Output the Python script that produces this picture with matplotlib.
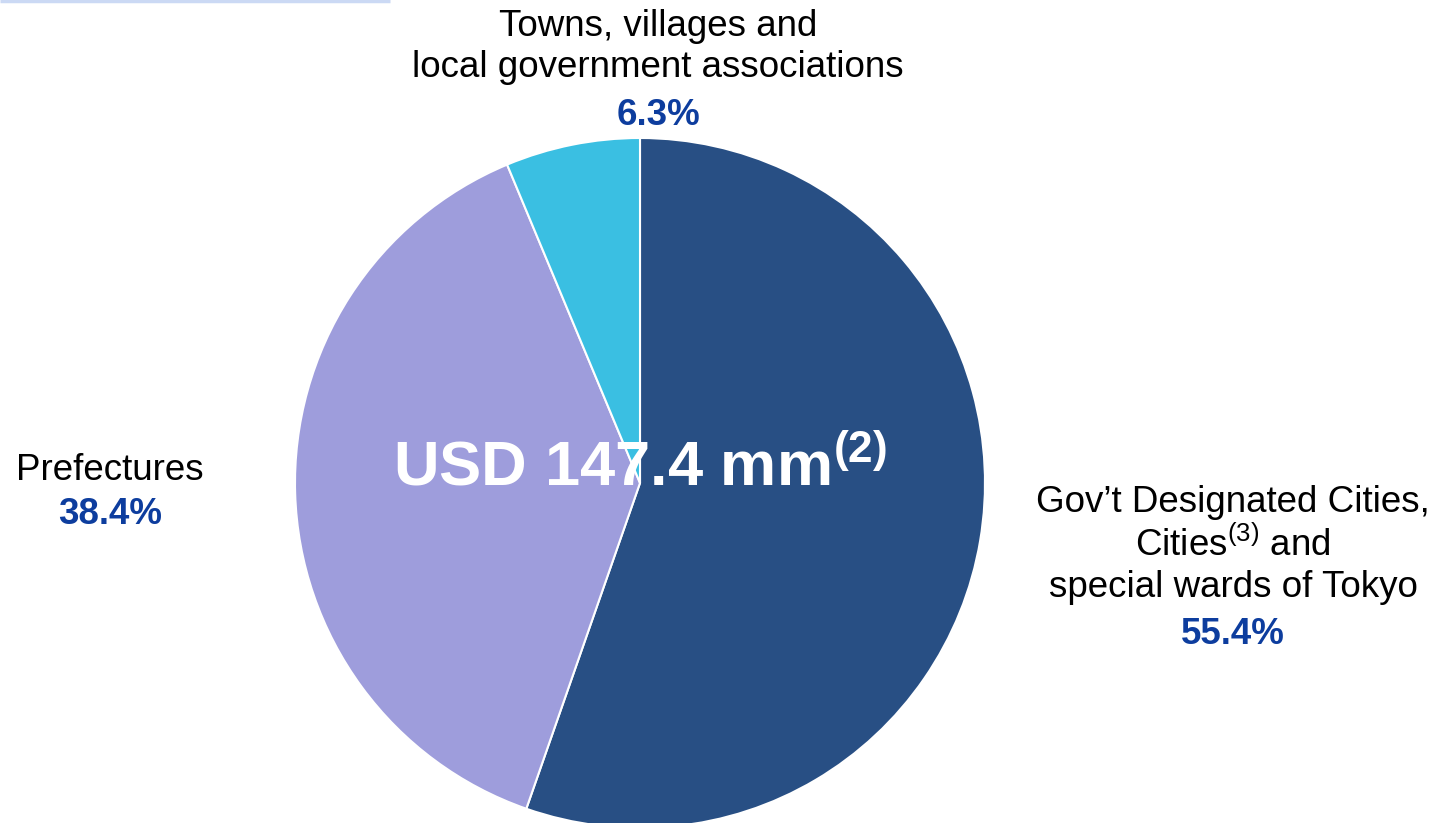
"""Breakdown of the total by issuer type, as a single pie with outside labels."""

import matplotlib

matplotlib.use("Agg")
import matplotlib.pyplot as plt  # noqa: E402

plt.rcParams["font.family"] = ["Liberation Sans", "DejaVu Sans"]
plt.rcParams["mathtext.fontset"] = "custom"
plt.rcParams["mathtext.rm"] = "Liberation Sans"
plt.rcParams["mathtext.bf"] = "Liberation Sans:bold"

# shares in percent, clockwise from 12 o'clock
categories = [
    "Gov\u2019t Designated Cities,\nCities$^{(3)}$ and\nspecial wards of Tokyo",
    "Prefectures",
    "Towns, villages and\nlocal government associations",
]
shares = [55.4, 38.4, 6.3]
total_label = r"USD 147.4 mm$^{\mathbf{(2)}}$"

COLORS = ["#284F84", "#9E9DDC", "#3ABFE2"]
PCT = "#0D3D9E"
W, H = 1442, 823

fig = plt.figure(figsize=(W / 100, H / 100), dpi=100)
ax = fig.add_axes([0, 0, 1, 1])

ax.pie(
    shares,
    colors=COLORS,
    startangle=90,
    counterclock=False,
    center=(640, H - 483),
    radius=345,
    frame=True,
    wedgeprops=dict(edgecolor="white", linewidth=1.5),
)
ax.set_xlim(0, W)
ax.set_ylim(0, H)
ax.set_aspect("equal")
ax.axis("off")

# thin rule along the top-left edge
ax.plot([0, 390], [H - 1, H - 1], color="#CBD9F4", lw=2.5, solid_capstyle="butt")

# label anchors (x, y of name block centre, y of pct)
anchors = [(1233, H - 545, H - 634), (110, H - 470, H - 515), (658, H - 47, H - 115)]
for name, val, (x, y_name, y_pct) in zip(categories, shares, anchors):
    ax.text(x, y_name, name, ha="center", va="center", fontsize=26.5,
            linespacing=1.22, color="black")
    ax.text(x, y_pct, f"{val:.1f}%", ha="center", va="center", fontsize=26.5,
            fontweight="bold", color=PCT)

ax.text(640, H - 468, total_label, ha="center", va="center", fontsize=45.5,
        fontweight="bold", color="white")

fig.savefig("out.png", dpi=100)
